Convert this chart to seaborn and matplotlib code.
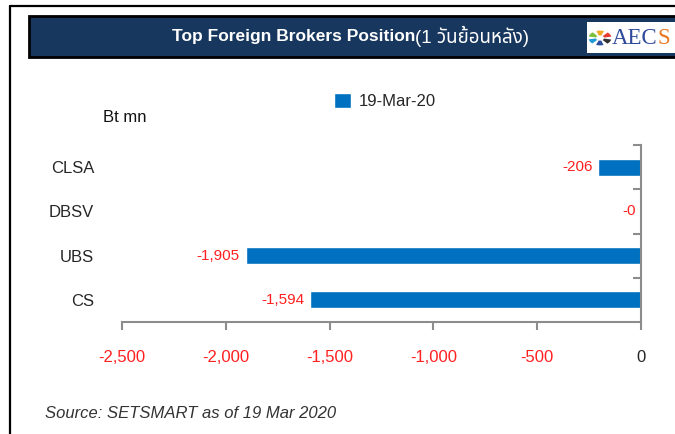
import matplotlib
matplotlib.use("Agg")
import matplotlib.pyplot as plt
import seaborn as sns
import pandas as pd
from matplotlib import font_manager
from matplotlib.patches import Rectangle, Wedge
from matplotlib.lines import Line2D

# data
brokers = ["CLSA", "DBSV", "UBS", "CS"]
net_position = [-206, -0.2, -1905, -1594]
value_labels = ["-206", "-0", "-1,905", "-1,594"]
date_label = "19-Mar-20"
x_ticks = [-2500, -2000, -1500, -1000, -500, 0]
x_tick_labels = ["-2,500", "-2,000", "-1,500", "-1,000", "-500", "0"]

W, H = 675, 434
BAR_BLUE = "#0070C0"
NAVY = "#17375E"
RED = "#FF2020"
GREY = "#8C8C8C"

sns.set_style("white")
installed = {f.name for f in font_manager.fontManager.ttflist}
thai = next((n for n in ["Noto Sans Thai", "Sarabun", "Prompt", "Kanit", "Athiti"]
             if n in installed), "DejaVu Sans")
plt.rcParams["font.family"] = ["Liberation Sans", thai, "DejaVu Sans"]


def fx(px):
    return px / W


def fy(py):
    return 1 - py / H


df = pd.DataFrame({"broker": brokers, "value": net_position, "date": date_label})

fig = plt.figure(figsize=(W / 100, H / 100), dpi=100)
ax = fig.add_axes([fx(122), fy(322), fx(641) - fx(122), fy(145) - fy(322)])

sns.barplot(data=df, x="value", y="broker", hue="date", orient="h",
            palette=[BAR_BLUE], saturation=1, width=0.38, order=brokers, ax=ax)

ax.set_xlim(-2500, 0)
ax.set_ylim(3.5, -0.5)
ax.set_xlabel("")
ax.set_ylabel("")

ax.bar_label(ax.containers[0], labels=value_labels, padding=4,
             color=RED, fontsize=11)

# x axis
ax.set_xticks(x_ticks)
ax.set_xticklabels(x_tick_labels, fontsize=12)
for t, v in zip(ax.get_xticklabels(), x_ticks):
    t.set_color(RED if v < 0 else "#262626")
ax.tick_params(axis="x", direction="out", length=6, width=1.5, color=GREY,
               pad=14, bottom=True)

# y axis: labels far left, boundary ticks on the zero line
ax.set_yticks(range(len(brokers)))
ax.set_yticklabels(brokers, fontsize=12, color="#262626")
ax.tick_params(axis="y", which="major", length=0, pad=20)
ax.set_yticks([-0.5, 0.5, 1.5, 2.5], minor=True)
ax.tick_params(axis="y", which="minor", left=False, right=True,
               direction="in", length=6, width=1.5, color=GREY)

for s in ["top", "left"]:
    ax.spines[s].set_visible(False)
for s in ["bottom", "right"]:
    ax.spines[s].set_color(GREY)
    ax.spines[s].set_linewidth(1.5)

sns.move_legend(ax, "center left", bbox_to_anchor=(fx(334), fy(101)),
                bbox_transform=fig.transFigure, frameon=False, title=None,
                fontsize=12, handlelength=1.0, handleheight=1.0,
                handletextpad=0.5, borderpad=0, borderaxespad=0)

fig.text(fx(103), fy(117), "Bt mn", fontsize=12, va="center", ha="left",
         color="#111111")

# outer frame
fig.add_artist(Line2D([fx(10), fx(10)], [fy(6), 0], transform=fig.transFigure,
                      color="black", lw=1.6))
fig.add_artist(Line2D([fx(10), 1], [fy(6), fy(6)], transform=fig.transFigure,
                      color="black", lw=1.6))

# header band
fig.add_artist(Rectangle((fx(29), fy(57)), fx(700) - fx(29), fy(16) - fy(57),
                         transform=fig.transFigure, facecolor=NAVY,
                         edgecolor="black", lw=2))
fig.text(fx(415), fy(36.5), "Top Foreign Brokers Position", color="white",
         fontsize=12.5, fontweight="bold", ha="right", va="center")
fig.text(fx(415), fy(36.5), "(1 วันย้อนหลัง)", color="white", fontsize=13.5,
         ha="left", va="center")

# logo box
fig.add_artist(Rectangle((fx(587), fy(53)), fx(700) - fx(587), fy(22) - fy(53),
                         transform=fig.transFigure, facecolor="white",
                         edgecolor="none"))
logo_colors = ["#E63B2E", "#F5A623", "#7BBF3A", "#1E9BD7", "#2D4E9E", "#333333"]
for i, c in enumerate(logo_colors):
    fig.add_artist(Wedge((fx(600), fy(38)), 0.017, i * 60 + 10, i * 60 + 48,
                         width=0.011, transform=fig.transFigure, facecolor=c,
                         edgecolor="none"))
aec = fig.text(fx(612), fy(38), "AEC", color="#2E4A9B", fontsize=16.5,
               family="Liberation Serif", ha="left", va="center")
bb = aec.get_window_extent(renderer=fig.canvas.get_renderer())
fig.text(bb.x1 / W, fy(38), "S", color="#E87722", fontsize=16.5,
         family="Liberation Serif", ha="left", va="center")

fig.text(fx(45), fy(413), "Source: SETSMART as of 19 Mar 2020", fontsize=12,
         style="italic", color="#333333", ha="left", va="center")

fig.savefig("out.png", dpi=100)
